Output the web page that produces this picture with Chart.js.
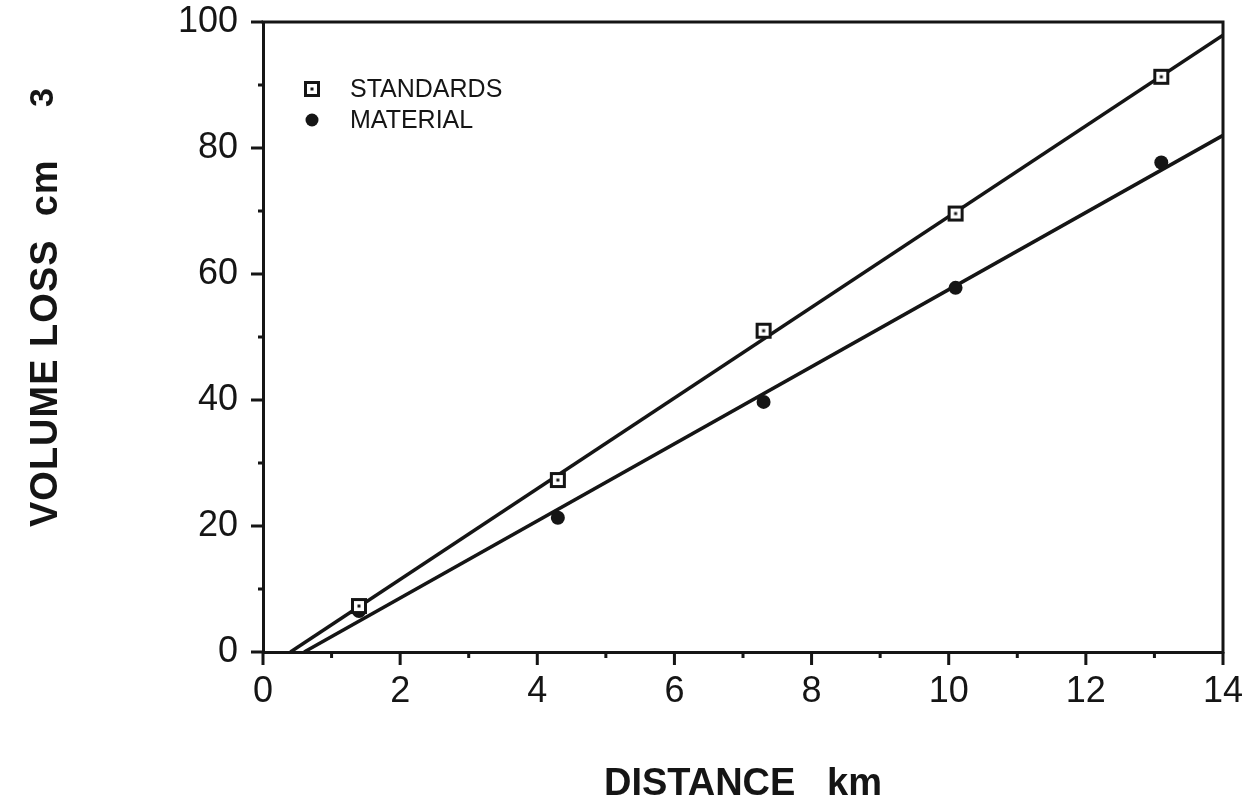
<!DOCTYPE html>
<html>
<head>
<meta charset="utf-8">
<script src="https://cdn.jsdelivr.net/npm/chart.js@4.4.1/dist/chart.umd.min.js"></script>
<style>
  html, body { margin: 0; padding: 0; background: #fff; }
  #wrap { width: 1250px; height: 807px; }
</style>
</head>
<body>
<div id="wrap"><canvas id="c" width="1250" height="807"></canvas></div>
<script>
'use strict';

// ── Data ─────────────────────────────────────────────────
const DIST_KM        = [1.4, 4.3, 7.3, 10.1, 13.1];
const STANDARDS_LOSS = [7.3, 27.3, 51.0, 69.6, 91.3];
const MATERIAL_LOSS  = [6.5, 21.3, 39.7, 57.8, 77.7];

// least-squares lines, start and end
const STANDARDS_FIT_X = [0.4, 14];
const STANDARDS_FIT_Y = [0, 97.9];
const MATERIAL_FIT_X  = [0.6, 14];
const MATERIAL_FIT_Y  = [0, 82.0];

const X_TICKS = [0, 2, 4, 6, 8, 10, 12, 14];
const Y_TICKS = [0, 20, 40, 60, 80, 100];

const INK = '#151515';
const FONT = '"Liberation Sans", Arial, Helvetica, sans-serif';

const pts = (xs, ys) => xs.map((x, i) => ({ x, y: ys[i] }));

// open square with a dot in the middle
function squareMarker() {
  const c = document.createElement('canvas');
  c.width = 18; c.height = 18;
  const g = c.getContext('2d');
  g.fillStyle = '#fff';
  g.fillRect(2, 2, 14, 14);
  g.strokeStyle = INK; g.lineWidth = 3;
  g.strokeRect(2.5, 2.5, 13, 13);
  g.fillStyle = INK;
  g.fillRect(7.5, 7.5, 3, 3);
  return c;
}
const SQ = squareMarker();

// ── Plugins ──────────────────────────────────────────────
const frame = {
  id: 'frame',
  afterDraw(chart) {
    const { ctx, chartArea: a, scales: { x, y } } = chart;
    ctx.save();
    ctx.strokeStyle = INK; ctx.lineWidth = 3; ctx.lineCap = 'square';
    ctx.beginPath();
    ctx.moveTo(a.left, a.top); ctx.lineTo(a.right, a.top); ctx.lineTo(a.right, a.bottom);
    ctx.stroke();

    // tick marks, majors longer than minors
    ctx.lineCap = 'butt';
    ctx.beginPath();
    for (let v = 0; v <= 14; v++) {
      const px = x.getPixelForValue(v);
      ctx.moveTo(px, a.bottom); ctx.lineTo(px, a.bottom + (v % 2 ? 6 : 13));
    }
    for (let v = 0; v <= 100; v += 10) {
      const py = y.getPixelForValue(v);
      ctx.moveTo(a.left, py); ctx.lineTo(a.left - (v % 20 ? 5 : 12), py);
    }
    ctx.stroke();

    // y title with the cube exponent
    ctx.fillStyle = INK;
    ctx.translate(57, 527);
    ctx.rotate(-Math.PI / 2);
    ctx.font = 'bold 38px ' + FONT;
    ctx.letterSpacing = '1px';
    ctx.textAlign = 'left'; ctx.textBaseline = 'alphabetic';
    ctx.fillText('VOLUME LOSS  cm', 0, 0);
    ctx.letterSpacing = '0px';
    ctx.font = 'bold 34px ' + FONT;
    ctx.fillText('3', 420, -4);
    ctx.restore();
  }
};

const key = {
  id: 'key',
  afterDraw(chart) {
    const { ctx, chartArea: a } = chart;
    const rows = chart.data.datasets.filter(d => d.inKey);
    ctx.save();
    ctx.font = '25px ' + FONT;
    ctx.fillStyle = INK;
    ctx.textBaseline = 'middle';
    rows.forEach((d, i) => {
      const cy = a.top + 67 + i * 31;
      const cx = a.left + 49;
      if (d.pointStyle === SQ) {
        ctx.drawImage(SQ, cx - 9, cy - 9);
      } else {
        ctx.beginPath(); ctx.arc(cx, cy, 6.5, 0, Math.PI * 2); ctx.fill();
      }
      ctx.fillText(d.label, a.left + 87, cy + 1);
    });
    ctx.restore();
  }
};

// scale sizes are pinned so the plot box lands where it should
const noPad = s => { s.paddingLeft = s.paddingRight = s.paddingTop = s.paddingBottom = 0; };

// ── Chart ────────────────────────────────────────────────
const tickFont = { family: FONT, size: 36, lineHeight: 1 };

new Chart(document.getElementById('c').getContext('2d'), {
  type: 'scatter',
  data: {
    datasets: [
      { label: 'STANDARDS', inKey: true, data: pts(DIST_KM, STANDARDS_LOSS), pointStyle: SQ, pointRadius: 9, order: 0 },
      { label: 'MATERIAL', inKey: true, data: pts(DIST_KM, MATERIAL_LOSS), pointStyle: 'circle', pointRadius: 7,
        backgroundColor: INK, borderColor: INK, borderWidth: 0, order: 0 },
      { label: 'standards fit', data: pts(STANDARDS_FIT_X, STANDARDS_FIT_Y), showLine: true, pointRadius: 0,
        borderColor: INK, borderWidth: 3.5, order: 1 },
      { label: 'material fit', data: pts(MATERIAL_FIT_X, MATERIAL_FIT_Y), showLine: true, pointRadius: 0,
        borderColor: INK, borderWidth: 3.5, order: 1 },
    ]
  },
  options: {
    responsive: false,
    animation: false,
    events: [],
    layout: { padding: { top: 22, right: 27, left: 0, bottom: 0 } },
    plugins: { legend: { display: false }, tooltip: { enabled: false } },
    scales: {
      x: {
        type: 'linear', min: 0, max: 14,
        afterBuildTicks: s => { s.ticks = X_TICKS.map(value => ({ value })); },
        afterFit: s => { s.height = 155; noPad(s); },
        grid: { display: false, drawTicks: false },
        border: { display: true, color: INK, width: 3 },
        ticks: { color: INK, font: tickFont, padding: 22, maxRotation: 0 },
        title: { display: true, text: 'DISTANCE   km', color: INK, font: { family: FONT, size: 38, weight: 'bold', lineHeight: 1.2 }, padding: { top: 0, bottom: 0 } }
      },
      y: {
        type: 'linear', min: 0, max: 100,
        afterBuildTicks: s => { s.ticks = Y_TICKS.map(value => ({ value })); },
        afterFit: s => { s.width = 263; noPad(s); },
        grid: { display: false, drawTicks: false },
        border: { display: true, color: INK, width: 3 },
        ticks: { color: INK, font: tickFont, padding: 25 }
      }
    }
  },
  plugins: [frame, key]
});
</script>
</body>
</html>
